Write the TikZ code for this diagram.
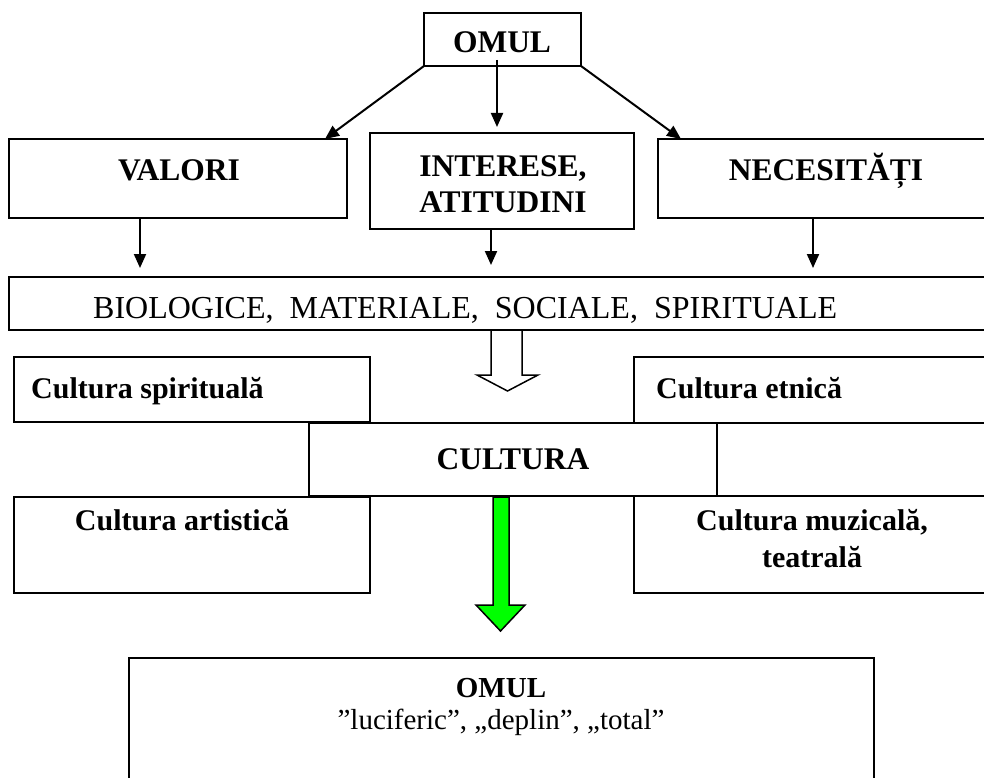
\documentclass[tikz,border=0pt]{standalone}
\usepackage{fontspec}
\setmainfont{Liberation Serif}
\usetikzlibrary{arrows.meta}
\definecolor{flowgreen}{RGB}{0,255,0}
\begin{document}
\begin{tikzpicture}[x=1pt,y=-1pt,
  box/.style={draw, line width=2pt, anchor=north west, inner sep=0pt, outer sep=0pt},
  caps/.style={font=\fontsize{31.5}{36}\selectfont\bfseries, inner sep=0pt},
  bold/.style={font=\fontsize{30}{35}\selectfont\bfseries, inner sep=0pt},
  plain/.style={font=\fontsize{32}{36}\selectfont, inner sep=0pt},
  small/.style={font=\fontsize{29}{33}\selectfont, inner sep=0pt},
  smallbold/.style={font=\fontsize{29}{33}\selectfont\bfseries, inner sep=0pt},
  arr/.style={line width=2pt, -{Triangle[length=14pt,width=12pt]}},
]
\useasboundingbox (0,0) rectangle (984,778);
\fill[white] (0,0) rectangle (984,778);
\clip (0,0) rectangle (984,778);

% boxes
\node[box, minimum width=157pt, minimum height=53pt]  (topomul)  at (424,13)  {};
\node[box, minimum width=338pt, minimum height=79pt]  (valori)   at (9,139)   {};
\node[box, minimum width=264pt, minimum height=96pt]  (interese) at (370,133) {};
\node[box, minimum width=337pt, minimum height=79pt]  (neces)    at (658,139) {};
\node[box, minimum width=986pt, minimum height=53pt]  (bio)      at (9,277)   {};
\node[box, minimum width=356pt, minimum height=65pt]  (spirit)   at (14,357)  {};
\node[box, minimum width=361pt, minimum height=66pt]  (etnic)    at (634,357) {};
\node[box, minimum width=408pt, minimum height=73pt]  (cultura)  at (309,423) {};
\node[box, minimum width=356pt, minimum height=96pt]  (artist)   at (14,497)  {};
\node[box, minimum width=361pt, minimum height=97pt]  (muzic)    at (634,496) {};
\node[box, minimum width=745pt, minimum height=140pt] (omul)     at (129,658) {};

% texts
\node[caps, anchor=base] (tTop) at (502,53) {OMUL};
\node[caps, anchor=base] (tValori) at (179,181) {VALORI};
\node[caps, anchor=base] (tInt1) at (503,177) {INTERESE,};
\node[caps, anchor=base] (tInt2) at (503,212) {ATITUDINI};
\node[caps, anchor=base] (tNec) at (826,181) {NECESITĂȚI};
\node[plain, anchor=base west] (tBio) at (93,318) {BIOLOGICE,\ \ MATERIALE,\ \ SOCIALE,\ \ SPIRITUALE};
\node[bold, anchor=base west] (tSpirit) at (31,398) {Cultura spirituală};
\node[bold, anchor=base west] (tEtnic) at (656,398) {Cultura etnică};
\node[caps, anchor=base] (tCult) at (513,469) {CULTURA};
\node[bold, anchor=base] (tArt) at (182,530) {Cultura artistică};
\node[bold, anchor=base] (tMuz1) at (812,530) {Cultura muzicală,};
\node[bold, anchor=base] (tMuz2) at (812,567) {teatrală};
\node[smallbold, anchor=base] (tOmul) at (501,697) {OMUL};
\node[small, anchor=base] (tOmul2) at (501,729) {”luciferic”, „deplin”, „total”};

% connectors from the top box
\draw[arr] (topomul.south west) -- ([xshift=-22pt]valori.north east);
\draw[arr] ([xshift=-5.5pt,yshift=6pt]topomul.south) -- ([xshift=-5pt,yshift=6pt]interese.north);
\draw[arr] (topomul.south east) -- ([xshift=23pt]neces.north west);

% connectors into the needs bar
\draw[arr] ([xshift=-38pt]valori.south) -- ([xshift=131pt,yshift=9pt]bio.north west);
\draw[arr] ([xshift=-11pt]interese.south) -- ([xshift=482pt,yshift=12pt]bio.north west);
\draw[arr] ([xshift=155pt]neces.south west) -- ([xshift=804pt,yshift=9pt]bio.north west);

% hollow block arrow
\draw[line width=1.5pt, fill=white, line join=miter]
  (491,331) -- (491,375) -- (477,375) -- (507.5,391) -- (538,375) -- (522,375) -- (522,331);

% green block arrow
\draw[line width=1.5pt, fill=flowgreen, line join=miter]
  (493,497) -- (493,605) -- (476,605) -- (500.5,631) -- (525,605) -- (509,605) -- (509,497) -- cycle;
\end{tikzpicture}
\end{document}
